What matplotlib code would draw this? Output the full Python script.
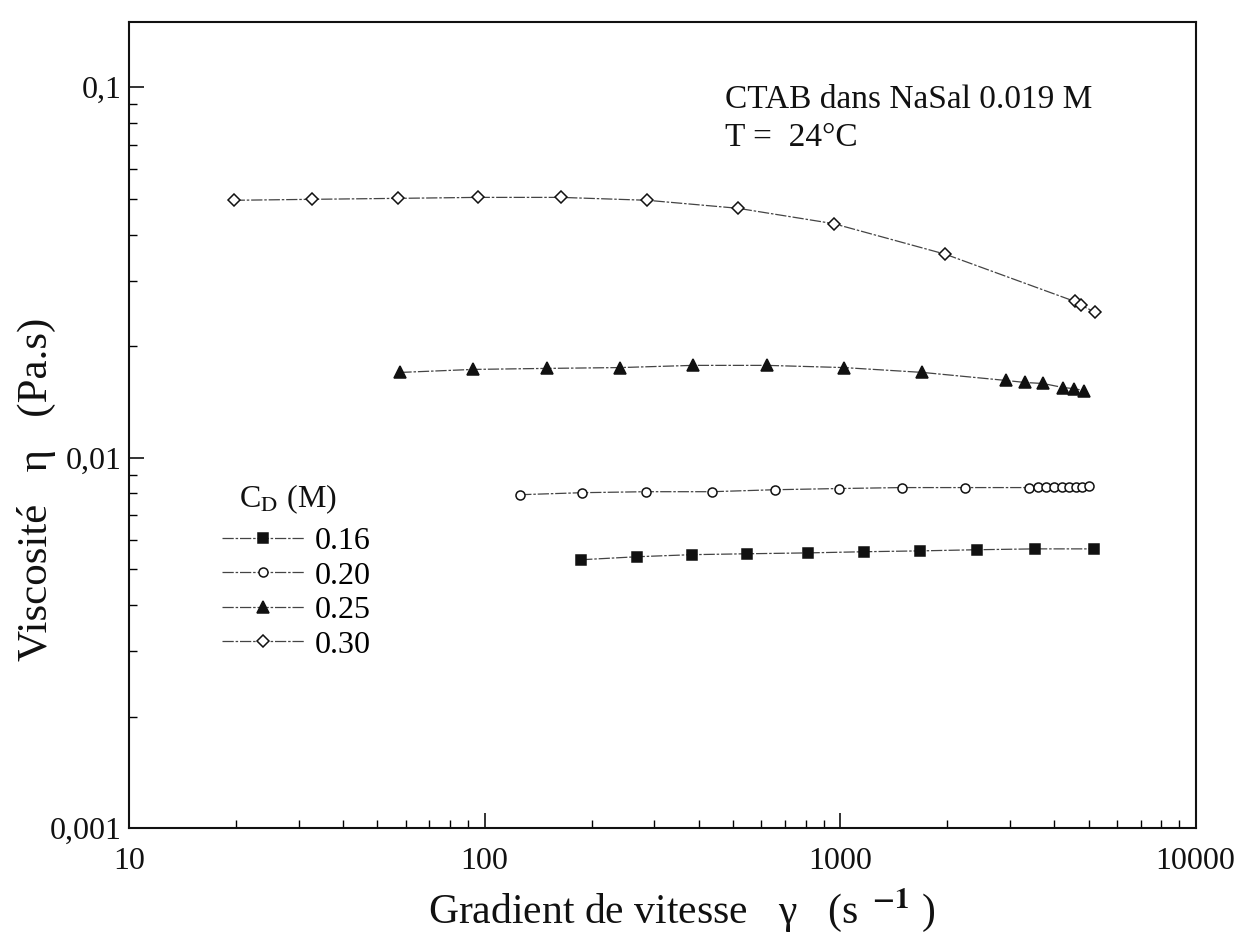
import matplotlib.pyplot as plt
from matplotlib.ticker import FixedLocator, LogLocator, NullFormatter

plt.rcParams["font.family"] = ["Liberation Serif", "DejaVu Serif"]
plt.rcParams["mathtext.fontset"] = "stix"

DARK = "#111111"
LINE = "#444444"

# CTAB in 0.019 M NaSal, shear viscosity (Pa.s) against shear rate (1/s)
RATE_016 = [187, 269, 384, 547, 811, 1164, 1682, 2432, 3533, 5174]
VISC_016 = [0.00530, 0.00540, 0.00547, 0.00550, 0.00553, 0.00557, 0.00560,
            0.00564, 0.00567, 0.00567]

RATE_020 = [126, 188, 285, 437, 656, 991, 1489, 2250, 3400,
            3600, 3800, 4000, 4200, 4400, 4600, 4800, 5000]
VISC_020 = [0.00794, 0.00804, 0.00809, 0.00809, 0.00819, 0.00825, 0.00830,
            0.00830, 0.00830, 0.00832, 0.00832, 0.00833, 0.00833, 0.00834,
            0.00835, 0.00835, 0.00836]

RATE_025 = [58, 93, 150, 241, 386, 622, 1023, 1705, 2933, 3313, 3722, 4236,
            4548, 4853]
VISC_025 = [0.01698, 0.01730, 0.01741, 0.01750, 0.01774, 0.01774, 0.01750,
            0.01698, 0.01615, 0.01595, 0.01585, 0.01546, 0.01535, 0.01517]

RATE_030 = [19.7, 32.8, 57.1, 95.8, 164, 287, 516, 960, 1977, 4570, 4750, 5210]
VISC_030 = [0.0495, 0.0498, 0.0501, 0.0504, 0.0504, 0.0495, 0.0471, 0.0428,
            0.0354, 0.0264, 0.0258, 0.0247]

SERIES = [
    ("0.16", RATE_016, VISC_016, "s", DARK, 7),
    ("0.20", RATE_020, VISC_020, "o", "white", 6.5),
    ("0.25", RATE_025, VISC_025, "^", DARK, 8),
    ("0.30", RATE_030, VISC_030, "D", "white", 6.5),
]

fig = plt.figure(figsize=(12.57, 9.33), dpi=100)
ax = fig.add_axes([0.1026, 0.1125, 0.8486, 0.864])

for label, x, y, marker, face, size in SERIES:
    ax.plot(x, y, linestyle=(0, (9, 1.5, 2, 1.5)), lw=0.9, color=LINE,
            marker=marker, markersize=size, markerfacecolor=face,
            markeredgecolor=DARK, markeredgewidth=1.1, label=label)

ax.set_xscale("log")
ax.set_yscale("log")
ax.set_xlim(10, 10000)
ax.set_ylim(0.001, 0.15)

ax.xaxis.set_major_locator(FixedLocator([10, 100, 1000, 10000]))
ax.set_xticklabels(["10", "100", "1000", "10000"])
ax.xaxis.set_minor_locator(LogLocator(base=10, subs=range(2, 10)))
ax.xaxis.set_minor_formatter(NullFormatter())
ax.yaxis.set_major_locator(FixedLocator([0.001, 0.01, 0.1]))
ax.set_yticklabels(["0,001", "0,01", "0,1"])
ax.yaxis.set_minor_locator(LogLocator(base=10, subs=range(2, 10)))
ax.yaxis.set_minor_formatter(NullFormatter())

ax.tick_params(which="major", direction="in", length=11, width=1.2,
               labelsize=23, colors=DARK, pad=14)
ax.tick_params(which="minor", direction="in", length=6, width=1.0)
ax.tick_params(axis="y", pad=5)
for spine in ax.spines.values():
    spine.set_linewidth(1.5)
    spine.set_color(DARK)

ax.set_xlabel("Gradient de vitesse   γ   (s $^{\\,\\mathbf{-1}}$ )",
              fontsize=30, color=DARK)
ax.xaxis.set_label_coords(0.518, -0.072)
ax.set_ylabel("Viscosité   η   (Pa.s)", fontsize=31, color=DARK)
ax.yaxis.set_label_coords(-0.068, 0.42)

ax.text(0.559, 0.903, "CTAB dans NaSal 0.019 M", transform=ax.transAxes,
        fontsize=24, color=DARK, va="center")
ax.text(0.559, 0.856, "T =  24°C", transform=ax.transAxes,
        fontsize=24, color=DARK, va="center")

# legend with its heading written separately so the subscript stays upright
ax.text(0.103, 0.408, "C$_{\\mathrm{D}}$ (M)", transform=ax.transAxes,
        fontsize=23, color=DARK, va="center")
ax.legend(loc="upper left", bbox_to_anchor=(0.075, 0.3895),
          frameon=False, fontsize=23, handlelength=2.6, handletextpad=0.3,
          labelspacing=0.16, borderaxespad=0)

fig.savefig("out.png", dpi=100, facecolor="white")
